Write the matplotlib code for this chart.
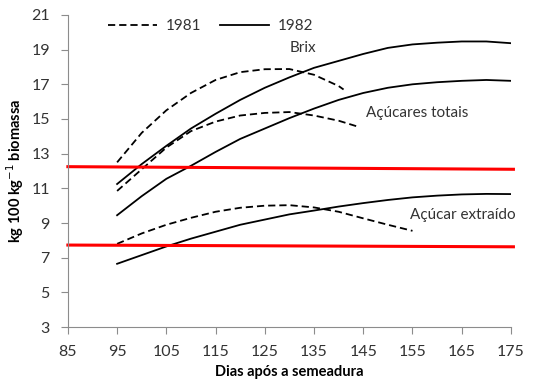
import matplotlib.pyplot as plt

plt.rcParams['font.family'] = ['Lato', 'DejaVu Sans']

# Brix, total sugars and extracted sugar (kg 100 kg-1 biomass) by days after sowing
dias_1981_brix = [95, 100, 105, 110, 115, 120, 125, 130, 135, 140, 141]
brix_1981 = [12.5, 14.2, 15.5, 16.5, 17.25, 17.7, 17.87, 17.88, 17.55, 16.9, 16.7]

dias_1981_totais = [95, 100, 105, 110, 115, 120, 125, 130, 135, 140, 144]
totais_1981 = [10.85, 12.1, 13.35, 14.3, 14.85, 15.2, 15.35, 15.4, 15.2, 14.9, 14.55]

dias_1981_extraido = [95, 100, 105, 110, 115, 120, 125, 130, 135, 140, 145, 150, 155]
extraido_1981 = [7.8, 8.4, 8.9, 9.3, 9.65, 9.88, 10.0, 10.03, 9.9, 9.65, 9.27, 8.9, 8.55]

dias_1982 = [95, 100, 105, 110, 115, 120, 125, 130, 135, 140, 145, 150, 155, 160, 165, 170, 175]
brix_1982 = [11.25, 12.4, 13.45, 14.45, 15.3, 16.1, 16.8, 17.4, 17.95, 18.35, 18.75,
             19.1, 19.3, 19.4, 19.47, 19.47, 19.37]
totais_1982 = [9.45, 10.55, 11.55, 12.3, 13.1, 13.85, 14.45, 15.05, 15.6, 16.1, 16.5,
               16.8, 17.0, 17.12, 17.2, 17.25, 17.2]
extraido_1982 = [6.65, 7.15, 7.65, 8.1, 8.5, 8.9, 9.2, 9.5, 9.72, 9.95, 10.15,
                 10.33, 10.48, 10.58, 10.65, 10.68, 10.67]

# red reference lines
ref_x = [85, 175.5]
ref_alto = [12.25, 12.1]
ref_baixo = [7.73, 7.63]

fig = plt.figure(figsize=(5.43, 3.83), dpi=100)
ax = fig.add_axes([0.125, 0.146, 0.816, 0.815])

lw = 1.3
dash = (4, 2.2)
ax.plot(dias_1981_brix, brix_1981, color='black', lw=lw, dashes=dash, label='1981')
ax.plot(dias_1982, brix_1982, color='black', lw=lw, label='1982')
ax.plot(dias_1981_totais, totais_1981, color='black', lw=lw, dashes=dash)
ax.plot(dias_1982, totais_1982, color='black', lw=lw)
ax.plot(dias_1981_extraido, extraido_1981, color='black', lw=lw, dashes=dash)
ax.plot(dias_1982, extraido_1982, color='black', lw=lw)

ax.plot(ref_x, ref_alto, color='#ff0000', lw=2.2, clip_on=False)
ax.plot(ref_x, ref_baixo, color='#ff0000', lw=2.2, clip_on=False)

ax.text(130, 19.1, 'Brix', fontsize=11, color='#333333', va='center')
ax.text(145.5, 15.35, 'Açúcares totais', fontsize=11, color='#333333', va='center')
ax.text(154.5, 9.45, 'Açúcar extraído', fontsize=11, color='#333333', va='center')

ax.set_xlim(85, 175)
ax.set_ylim(3, 21)
ax.set_xticks(range(85, 176, 10))
ax.set_yticks(range(3, 22, 2))

for s in ['top', 'right']:
    ax.spines[s].set_visible(False)
for s in ['left', 'bottom']:
    ax.spines[s].set_color('#8c8c8c')
ax.tick_params(direction='out', length=5, width=0.8, color='#8c8c8c',
               labelsize=11.5, labelcolor='#333333', pad=8)

ax.set_xlabel('Dias após a semeadura', fontsize=10.5, fontweight='bold', labelpad=4)
ax.set_ylabel('kg 100 kg$^{-1}$ biomassa', fontsize=10.5, fontweight='bold', labelpad=4)

leg = ax.legend(loc='upper left', bbox_to_anchor=(0.06, 1.03), ncol=2, frameon=False,
                fontsize=11, handlelength=3.2, columnspacing=1.2, handletextpad=0.6)
for t in leg.get_texts():
    t.set_color('#333333')

fig.savefig('out.png', dpi=100)
